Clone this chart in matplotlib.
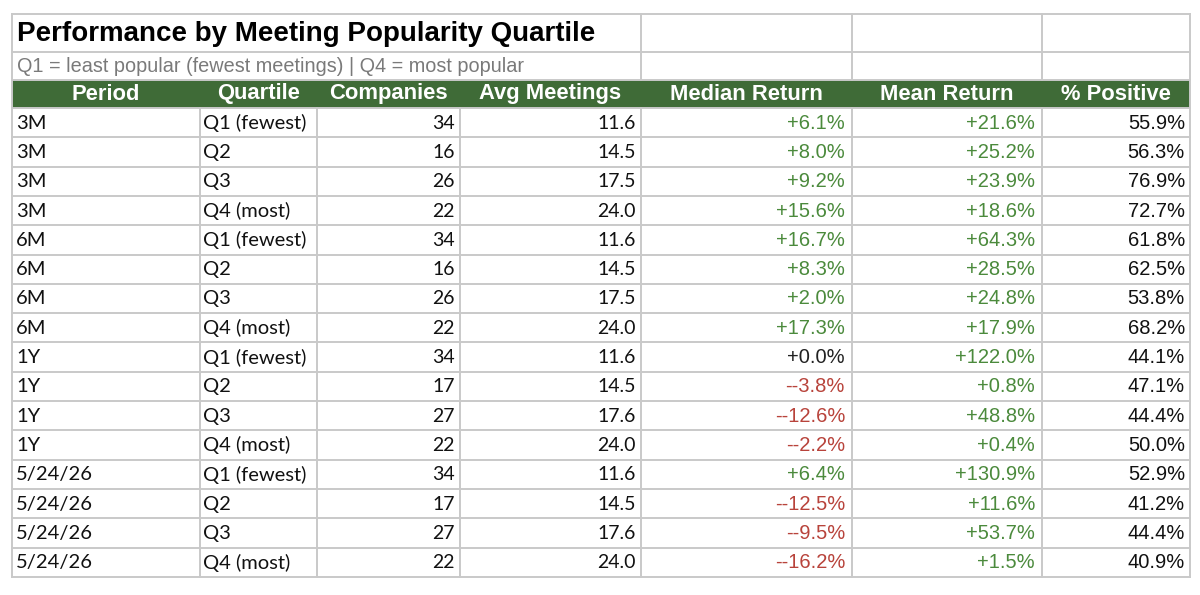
import matplotlib
matplotlib.use("Agg")
import matplotlib.pyplot as plt
from matplotlib.patches import Rectangle

title = "Performance by Meeting Popularity Quartile"
subtitle = "Q1 = least popular (fewest meetings) | Q4 = most popular"
headers = ["Period", "Quartile", "Companies", "Avg Meetings", "Median Return", "Mean Return", "% Positive"]

periods = ["3M"] * 4 + ["6M"] * 4 + ["1Y"] * 4 + ["5/24/26"] * 4
quartiles = ["Q1 (fewest)", "Q2", "Q3", "Q4 (most)"] * 4
companies = [34, 16, 26, 22, 34, 16, 26, 22, 34, 17, 27, 22, 34, 17, 27, 22]
avg_meetings = [11.6, 14.5, 17.5, 24.0, 11.6, 14.5, 17.5, 24.0, 11.6, 14.5, 17.6, 24.0, 11.6, 14.5, 17.6, 24.0]
median_return = [6.1, 8.0, 9.2, 15.6, 16.7, 8.3, 2.0, 17.3, 0.0, -3.8, -12.6, -2.2, 6.4, -12.5, -9.5, -16.2]
mean_return = [21.6, 25.2, 23.9, 18.6, 64.3, 28.5, 24.8, 17.9, 122.0, 0.8, 48.8, 0.4, 130.9, 11.6, 53.7, 1.5]
pct_positive = [55.9, 56.3, 76.9, 72.7, 61.8, 62.5, 53.8, 68.2, 44.1, 47.1, 44.4, 50.0, 52.9, 41.2, 44.4, 40.9]

GREEN_HDR = "#3f6b37"
GREEN_TXT = "#4b8a3c"
RED_TXT = "#b8433b"
GRID = "#c9c9c9"

fig = plt.figure(figsize=(12, 5.95), dpi=100)
ax = fig.add_axes([0, 0, 1, 1])
ax.set_xlim(0, 1200)
ax.set_ylim(595, 0)
ax.axis("off")

col_x = [12, 200, 317, 460, 641, 852, 1042, 1190]
y_top = 14
y_sub = 52
y_hdr = 80
y_data = 108
row_h = 29.3
n = len(periods)
y_bot = y_data + n * row_h

# header background
ax.add_patch(Rectangle((col_x[0], y_hdr), col_x[-1] - col_x[0], y_data - y_hdr,
                       facecolor=GREEN_HDR, edgecolor="none", zorder=1))

lw = 1.4
for y in [y_top, y_sub, y_hdr]:
    ax.plot([col_x[0], col_x[-1]], [y, y], color=GRID, lw=lw, zorder=2)
for i in range(n + 1):
    y = y_data + i * row_h
    ax.plot([col_x[0], col_x[-1]], [y, y], color=GRID, lw=lw, zorder=2)
ax.plot([col_x[0], col_x[0]], [y_top, y_bot], color=GRID, lw=lw, zorder=2)
ax.plot([col_x[-1], col_x[-1]], [y_top, y_bot], color=GRID, lw=lw, zorder=2)
for cx in col_x[4:7]:
    ax.plot([cx, cx], [y_top, y_hdr], color=GRID, lw=lw, zorder=2)
for cx in col_x[1:7]:
    ax.plot([cx, cx], [y_data, y_bot], color=GRID, lw=lw, zorder=2)

SANS = "Liberation Sans"
CAL = "Lato"

ax.text(17, (y_top + y_sub) / 2 + 1, title, fontsize=20, fontweight="bold",
        family=SANS, color="black", ha="left", va="center", zorder=3)
ax.text(17, (y_sub + y_hdr) / 2, subtitle, fontsize=14.3, family=SANS,
        color="#7a7a7a", ha="left", va="center", zorder=3)

for j, h in enumerate(headers):
    cx = (col_x[j] + col_x[j + 1]) / 2
    ax.text(cx, (y_hdr + y_data) / 2, h, fontsize=15.8, fontweight="bold", family=SANS,
            color="white", ha="center", va="center", zorder=3)


def fmt_ret(v):
    if v > 0:
        return "+%.1f%%" % v, GREEN_TXT
    if v < 0:
        return "-%.1f%%" % v, RED_TXT
    return "+%.1f%%" % v, "#222222"


for i in range(n):
    yc = y_data + (i + 0.5) * row_h + 0.5
    ax.text(col_x[0] + 4, yc, periods[i], fontsize=14.5, family=CAL, color="#111111",
            ha="left", va="center", zorder=3)
    ax.text(col_x[1] + 3, yc, quartiles[i], fontsize=14.5, family=CAL, color="#111111",
            ha="left", va="center", zorder=3)
    ax.text(col_x[3] - 5, yc, "%d" % companies[i], fontsize=14, family=CAL, color="#111111",
            ha="right", va="center", zorder=3)
    ax.text(col_x[4] - 5, yc, "%.1f" % avg_meetings[i], fontsize=14, family=CAL, color="#111111",
            ha="right", va="center", zorder=3)
    s, c = fmt_ret(median_return[i])
    ax.text(col_x[5] - 7, yc, s, fontsize=14.5, family=SANS, color=c,
            ha="right", va="center", zorder=3)
    s, c = fmt_ret(mean_return[i])
    ax.text(col_x[6] - 7, yc, s, fontsize=14.5, family=SANS, color=c,
            ha="right", va="center", zorder=3)
    ax.text(col_x[7] - 5, yc, "%.1f%%" % pct_positive[i], fontsize=14.5, family=SANS, color="#111111",
            ha="right", va="center", zorder=3)

fig.savefig("out.png", dpi=100, facecolor="white")
